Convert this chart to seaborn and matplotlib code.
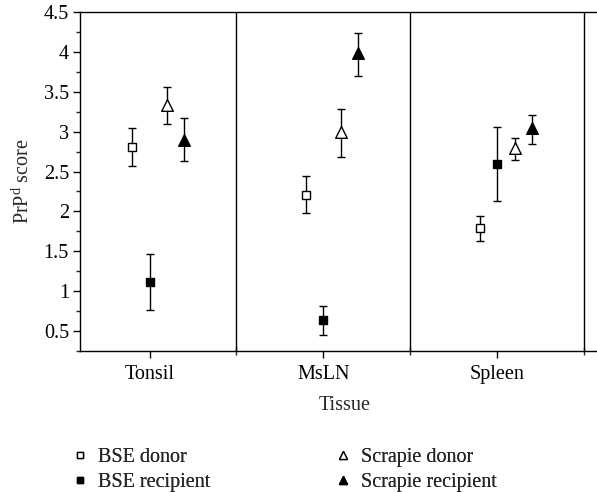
import numpy as np
import pandas as pd
import matplotlib
matplotlib.use("Agg")
import matplotlib.pyplot as plt
from matplotlib.lines import Line2D
from matplotlib.ticker import MultipleLocator, FuncFormatter
import seaborn as sns

# Data
tissues = ["Tonsil", "MsLN", "Spleen"]
groups = ["BSE donor", "BSE recipient", "Scrapie donor", "Scrapie recipient"]

bse_donor = [2.81, 2.21, 1.79]
bse_donor_lo = [2.57, 1.98, 1.63]
bse_donor_hi = [3.05, 2.44, 1.94]

bse_recipient = [1.12, 0.64, 2.60]
bse_recipient_lo = [0.76, 0.45, 2.13]
bse_recipient_hi = [1.46, 0.82, 3.06]

scrapie_donor = [3.33, 3.00, 2.80]
scrapie_donor_lo = [3.09, 2.68, 2.64]
scrapie_donor_hi = [3.56, 3.29, 2.92]

scrapie_recipient = [2.90, 3.98, 3.04]
scrapie_recipient_lo = [2.63, 3.70, 2.85]
scrapie_recipient_hi = [3.17, 4.24, 3.21]

rows = []
for g, m, lo, hi in zip(groups,
                        [bse_donor, bse_recipient, scrapie_donor, scrapie_recipient],
                        [bse_donor_lo, bse_recipient_lo, scrapie_donor_lo, scrapie_recipient_lo],
                        [bse_donor_hi, bse_recipient_hi, scrapie_donor_hi, scrapie_recipient_hi]):
    for t, mv, l, h in zip(tissues, m, lo, hi):
        rows.append({"Tissue": t, "Group": g, "score": mv, "lo": l, "hi": h})
df = pd.DataFrame(rows)

# styling per group
offsets = {"BSE donor": -0.1, "BSE recipient": 0.0, "Scrapie donor": 0.1, "Scrapie recipient": 0.2}
markers = {"BSE donor": "s", "BSE recipient": "s", "Scrapie donor": "^", "Scrapie recipient": "^"}
faces = {"BSE donor": "white", "BSE recipient": "black", "Scrapie donor": "white", "Scrapie recipient": "black"}
sizes = {"BSE donor": 36, "BSE recipient": 40, "Scrapie donor": 70, "Scrapie recipient": 70}

df["x"] = df["Tissue"].map({t: i for i, t in enumerate(tissues)}) + df["Group"].map(offsets)

FS = 14.5

sns.set_style("ticks")
plt.rcParams["font.family"] = ["Liberation Serif", "DejaVu Serif"]
plt.rcParams["mathtext.fontset"] = "custom"
plt.rcParams["mathtext.rm"] = "Liberation Serif"
plt.rcParams["mathtext.it"] = "Liberation Serif:italic"

fig = plt.figure(figsize=(5.97, 4.92), dpi=100)
ax = fig.add_axes([80 / 597, 141 / 492, 530 / 597, 339 / 492])

for g in groups:
    sub = df[df["Group"] == g]
    ax.errorbar(sub["x"], sub["score"],
                yerr=[sub["score"] - sub["lo"], sub["hi"] - sub["score"]],
                fmt="none", ecolor="black", elinewidth=1.0, capsize=2.8, capthick=1.0, zorder=2)
    sns.scatterplot(data=sub, x="x", y="score", marker=markers[g], s=sizes[g],
                    color=faces[g], edgecolor="black", linewidth=1.0, zorder=3, ax=ax, legend=False)

for sep in [0.5, 1.5, 2.5]:
    ax.axvline(sep, color="black", lw=1.0, zorder=1)

ax.set_xlim(-0.40, 2.5 + 26 / 174)
ax.set_ylim(0.25, 4.5)
ax.set_xticks(range(len(tissues)))
ax.set_xticklabels(tissues)
ax.set_xticks([0.5, 1.5, 2.5], minor=True)
ax.yaxis.set_major_locator(MultipleLocator(0.5))
ax.yaxis.set_minor_locator(MultipleLocator(0.25))
ax.yaxis.set_major_formatter(FuncFormatter(lambda v, p: f"{v:g}"))

for s in ["left", "bottom", "top"]:
    ax.spines[s].set_linewidth(1.0)
    ax.spines[s].set_color("black")
ax.spines["right"].set_visible(False)

ax.tick_params(axis="both", which="major", direction="out", length=5, width=1.0,
               labelsize=FS, colors="black")
ax.tick_params(axis="y", which="major", pad=3)
ax.tick_params(axis="x", which="major", pad=5)
ax.tick_params(axis="y", which="minor", direction="out", length=3, width=1.0)
ax.tick_params(axis="x", which="minor", direction="inout", length=6, width=1.0)

ax.set_xlabel("Tissue", fontsize=FS, labelpad=9)
ax.set_ylabel(r"PrP$^{\mathrm{d}}$ score", fontsize=FS, labelpad=7)

# legend in two columns below the axes
handles = {g: Line2D([], [], linestyle="none", marker=markers[g], markersize=5 if markers[g] == "s" else 6,
                     markerfacecolor=faces[g], markeredgecolor="black", markeredgewidth=1.0)
           for g in groups}
for col, xpos in [(["BSE donor", "BSE recipient"], 71 / 597),
                  (["Scrapie donor", "Scrapie recipient"], 334 / 597)]:
    leg = fig.legend([handles[g] for g in col], col, loc="upper left",
                     bbox_to_anchor=(xpos, 1 - 448 / 492), frameon=False, fontsize=FS,
                     handlelength=0.9, handletextpad=0.45, labelspacing=0.3, borderpad=0,
                     borderaxespad=0)
    fig.add_artist(leg)

fig.savefig("out.png", dpi=100)
